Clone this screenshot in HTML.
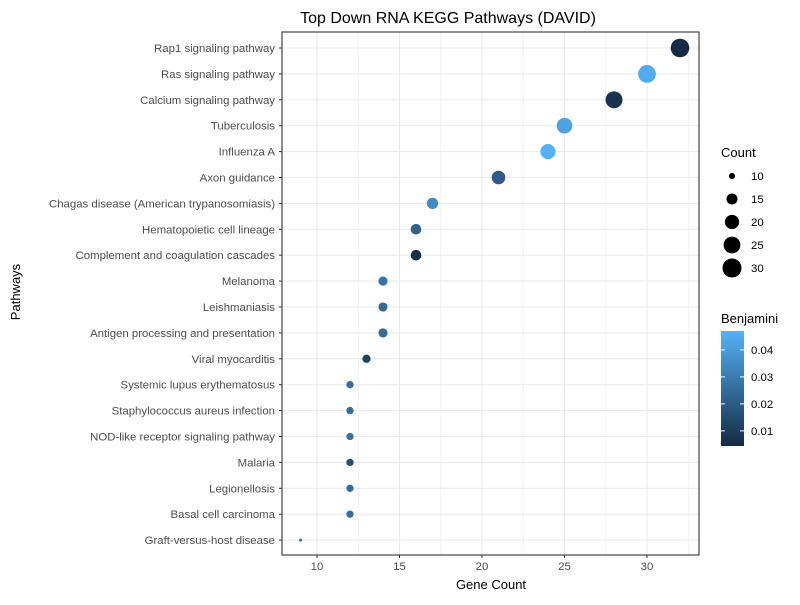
<!DOCTYPE html>
<html><head><meta charset="utf-8"><style>
body{margin:0;background:#fff;font-family:"Liberation Sans",Arial,sans-serif}
</style></head><body>
<svg id="chart" width="800" height="600" xmlns="http://www.w3.org/2000/svg" font-family="Liberation Sans, Arial, sans-serif">
<defs><linearGradient id="cb" x1="0" y1="1" x2="0" y2="0"><stop offset="0" stop-color="#132B43"/><stop offset="1" stop-color="#56B1F7"/></linearGradient></defs>
<g id="grid"></g><g id="marks"></g><g id="axes"></g>
<text x="448" y="23" font-size="16" text-anchor="middle" fill="#000">Top Down RNA KEGG Pathways (DAVID)</text>
<text x="491" y="589" font-size="13" text-anchor="middle">Gene Count</text>
<text transform="translate(20,292) rotate(-90)" font-size="13" text-anchor="middle">Pathways</text>
<g id="legend"></g>
</svg>
<script>
const categories=["Rap1 signaling pathway","Ras signaling pathway","Calcium signaling pathway","Tuberculosis","Influenza A","Axon guidance","Chagas disease (American trypanosomiasis)","Hematopoietic cell lineage","Complement and coagulation cascades","Melanoma","Leishmaniasis","Antigen processing and presentation","Viral myocarditis","Systemic lupus erythematosus","Staphylococcus aureus infection","NOD-like receptor signaling pathway","Malaria","Legionellosis","Basal cell carcinoma","Graft-versus-host disease"];
const counts=[32,30,28,25,24,21,17,16,16,14,14,14,13,12,12,12,12,12,12,9];
const benjamini=[0.005,0.045,0.007,0.042,0.047,0.02,0.035,0.022,0.006,0.028,0.024,0.025,0.012,0.026,0.026,0.027,0.016,0.025,0.026,0.03];
const xTicks=[10,15,20,25,30];
const sizeLegend=[10,15,20,25,30];
const colorTicks=[0.01,0.02,0.03,0.04];
const NS="http://www.w3.org/2000/svg";
const L=282,R=699,T=32,B=555;
const x=v=>317+(v-10)*16.5;
const y=i=>48+i*25.9;
const rr=c=>Math.sqrt(2.5+(c-9)/23*84);
const cmin=0.0044,cmax=0.047;
function col(v){let t=Math.max(0,Math.min(1,(v-cmin)/(cmax-cmin)));const a=[0x13,0x2B,0x43],b=[0x56,0xB1,0xF7];return "rgb("+a.map((q,k)=>Math.round(q+(b[k]-q)*t)).join(",")+")";}
function mk(tag,attrs,parent,text){const e=document.createElementNS(NS,tag);for(const k in attrs)e.setAttribute(k,attrs[k]);if(text!==undefined)e.textContent=text;parent.appendChild(e);return e;}
const grid=document.getElementById('grid'),marks=document.getElementById('marks'),axes=document.getElementById('axes'),leg=document.getElementById('legend');
for(let v=7.5;v<=32.5;v+=2.5){const px=x(v);if(px<L||px>R)continue;mk('line',{x1:px,x2:px,y1:T,y2:B,stroke:'#ebebeb','stroke-width':v%5===0?1.1:0.6},grid);}
categories.forEach((c,i)=>{mk('line',{x1:L,x2:R,y1:y(i),y2:y(i),stroke:'#ebebeb','stroke-width':1.1},grid);});
mk('rect',{x:L,y:T,width:R-L,height:B-T,fill:'none',stroke:'#333','stroke-width':1.1},axes);
categories.forEach((c,i)=>{
const t=mk('text',{x:L-7,y:y(i)+4,'font-size':11.4,'text-anchor':'end',fill:'#4d4d4d'},axes,c);


mk('line',{x1:L-3,x2:L,y1:y(i),y2:y(i),stroke:'#333'},axes);
const d=mk('circle',{cx:x(counts[i]),cy:y(i),r:rr(counts[i]),fill:col(benjamini[i])},marks);


});
xTicks.forEach(v=>{mk('line',{x1:x(v),x2:x(v),y1:B,y2:B+3,stroke:'#333'},axes);
const t=mk('text',{x:x(v),y:B+15,'font-size':11.4,'text-anchor':'middle',fill:'#4d4d4d'},axes,v);

});
const lt=mk('text',{x:721,y:157,'font-size':13},leg,'Count');


sizeLegend.forEach((v,k)=>{const cy=176+k*23;mk('circle',{cx:732,cy:cy,r:rr(v)+0.6,fill:'#000'},leg);
const t=mk('text',{x:751,y:cy+4,'font-size':11.4},leg,v);

});
const bt=mk('text',{x:721,y:323,'font-size':13},leg,'Benjamini');


mk('rect',{x:721,y:331,width:23,height:115,fill:'url(#cb)'},leg);
const cy=v=>446-(v-cmin)/(cmax-cmin)*115;
colorTicks.forEach(v=>{mk('line',{x1:721,x2:725,y1:cy(v),y2:cy(v),stroke:'#fff'},leg);mk('line',{x1:740,x2:744,y1:cy(v),y2:cy(v),stroke:'#fff'},leg);
const t=mk('text',{x:751,y:cy(v)+4,'font-size':11.4},leg,v.toFixed(2));

});
</script>
</body></html>
